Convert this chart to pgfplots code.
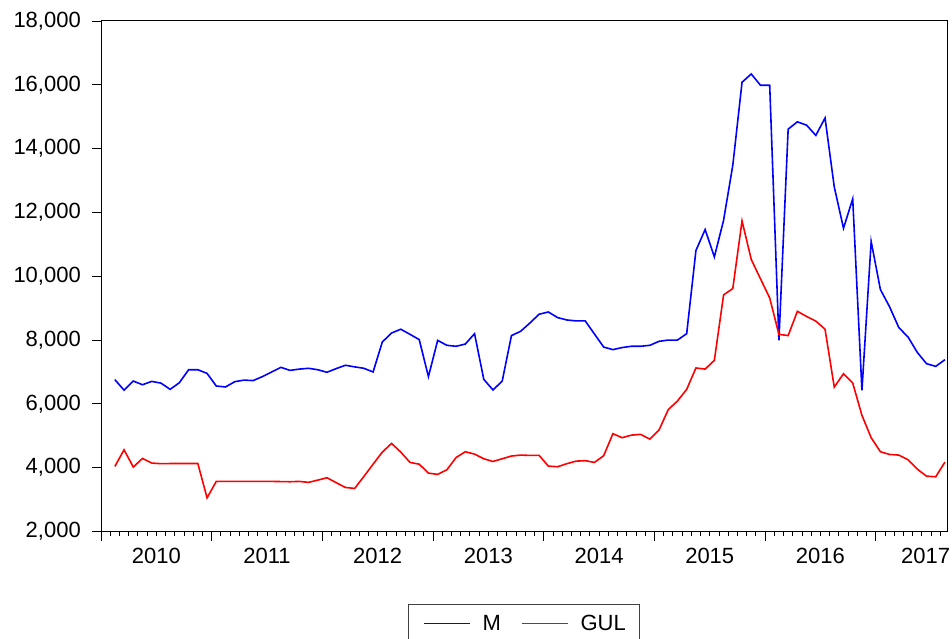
\documentclass[border=0pt]{standalone}
\usepackage{fontspec}
\setmainfont{Liberation Sans}
\usepackage{pgfplots}
\pgfplotsset{compat=1.18}
\usepackage{pgfplotstable}
\pgfplotstableread{
x M GUL
1.5 6760 4040
2.5 6430 4560
3.5 6715 4020
4.5 6600 4290
5.5 6705 4145
6.5 6650 4125
7.5 6455 4130
8.5 6665 4130
9.5 7070 4130
10.5 7070 4130
11.5 6955 3055
12.5 6560 3570
13.5 6530 3570
14.5 6695 3570
15.5 6745 3570
16.5 6730 3570
17.5 6855 3570
18.5 7000 3570
19.5 7145 3565
20.5 7050 3560
21.5 7090 3570
22.5 7115 3540
23.5 7070 3610
24.5 6990 3685
25.5 7105 3530
26.5 7210 3380
27.5 7160 3350
28.5 7115 3725
29.5 7000 4110
30.5 7940 4490
31.5 8220 4760
32.5 8340 4490
33.5 8180 4165
34.5 8015 4110
35.5 6855 3830
36.5 7990 3790
37.5 7835 3935
38.5 7805 4320
39.5 7875 4500
40.5 8200 4425
41.5 6770 4280
42.5 6435 4195
43.5 6715 4280
44.5 8140 4365
45.5 8275 4395
46.5 8535 4385
47.5 8810 4385
48.5 8880 4050
49.5 8705 4030
50.5 8630 4125
51.5 8600 4205
52.5 8600 4220
53.5 8190 4165
54.5 7780 4375
55.5 7700 5065
56.5 7765 4940
57.5 7805 5020
58.5 7805 5045
59.5 7835 4895
60.5 7960 5180
61.5 8000 5820
62.5 8000 6090
63.5 8200 6455
64.5 10805 7125
65.5 11465 7090
66.5 10605 7365
67.5 11755 9415
68.5 13480 9615
69.5 16080 11735
70.5 16340 10525
71.5 15985 9920
72.5 15985 9320
73.5 7990 8180
74.5 14610 8140
75.5 14840 8900
76.5 14735 8740
77.5 14415 8595
78.5 14960 8340
79.5 12800 6525
80.5 11505 6945
81.5 12425 6655
82.5 6425 5640
83.5 11090 4940
84.5 9585 4500
85.5 9040 4415
86.5 8390 4395
87.5 8095 4250
88.5 7615 3955
89.5 7260 3735
90.5 7175 3715
91.5 7385 4175
}\data
\begin{document}
\begin{tikzpicture}
\path[use as bounding box] (0,0) rectangle (952bp,639bp);
\begin{axis}[
  at={(101bp,107.5bp)}, anchor=south west,
  scale only axis, width=846.7bp, height=510.5bp,
  xmin=0, xmax=91.8, ymin=2000, ymax=18000,
  axis line style={line width=1bp, black},
  tick align=outside,
  xtick pos=bottom, ytick pos=left,
  xtick={0,12,24,36,48,60,72,84},
  xticklabels={},
  minor xtick={0,1,...,91},
  extra x ticks={6,18,30,42,54,66,78,89.4},
  extra x tick labels={2010,2011,2012,2013,2014,2015,2016,2017},
  extra x tick style={major tick length=0pt},
  major tick length=9bp,
  minor tick length=4bp,
  every tick/.style={black, line width=0.9bp},
  ytick={2000,4000,...,18000},
  scaled y ticks=false,
  /pgf/number format/1000 sep={,},
  /pgf/number format/assume math mode=true,
  tick label style={font=\fontsize{22bp}{26bp}\selectfont},
  yticklabel style={anchor=east, inner sep=0pt, xshift=-11bp},
  xticklabel style={anchor=north, inner sep=0pt, yshift=-16bp},
  legend image code/.code={\draw[#1, line width=1.6bp] (0bp,0bp) -- (46bp,0bp);},
  legend columns=2,
  legend style={at={(0.5,-0.142)}, anchor=north, draw=black!75, line width=1bp,
    font=\fontsize{22bp}{26bp}\selectfont,
    inner xsep=14bp, inner ysep=10.7bp,
    nodes={inner sep=0pt},
    /tikz/every odd column/.append style={column sep=12bp},
    /tikz/every even column/.append style={column sep=20bp}},
]
\addplot[blue, line width=1.6bp] table[x=x, y=M] {\data};
\addlegendentry{M}
\addplot[red, line width=1.6bp] table[x=x, y=GUL] {\data};
\addlegendentry{GUL}
\end{axis}
\end{tikzpicture}
\end{document}
